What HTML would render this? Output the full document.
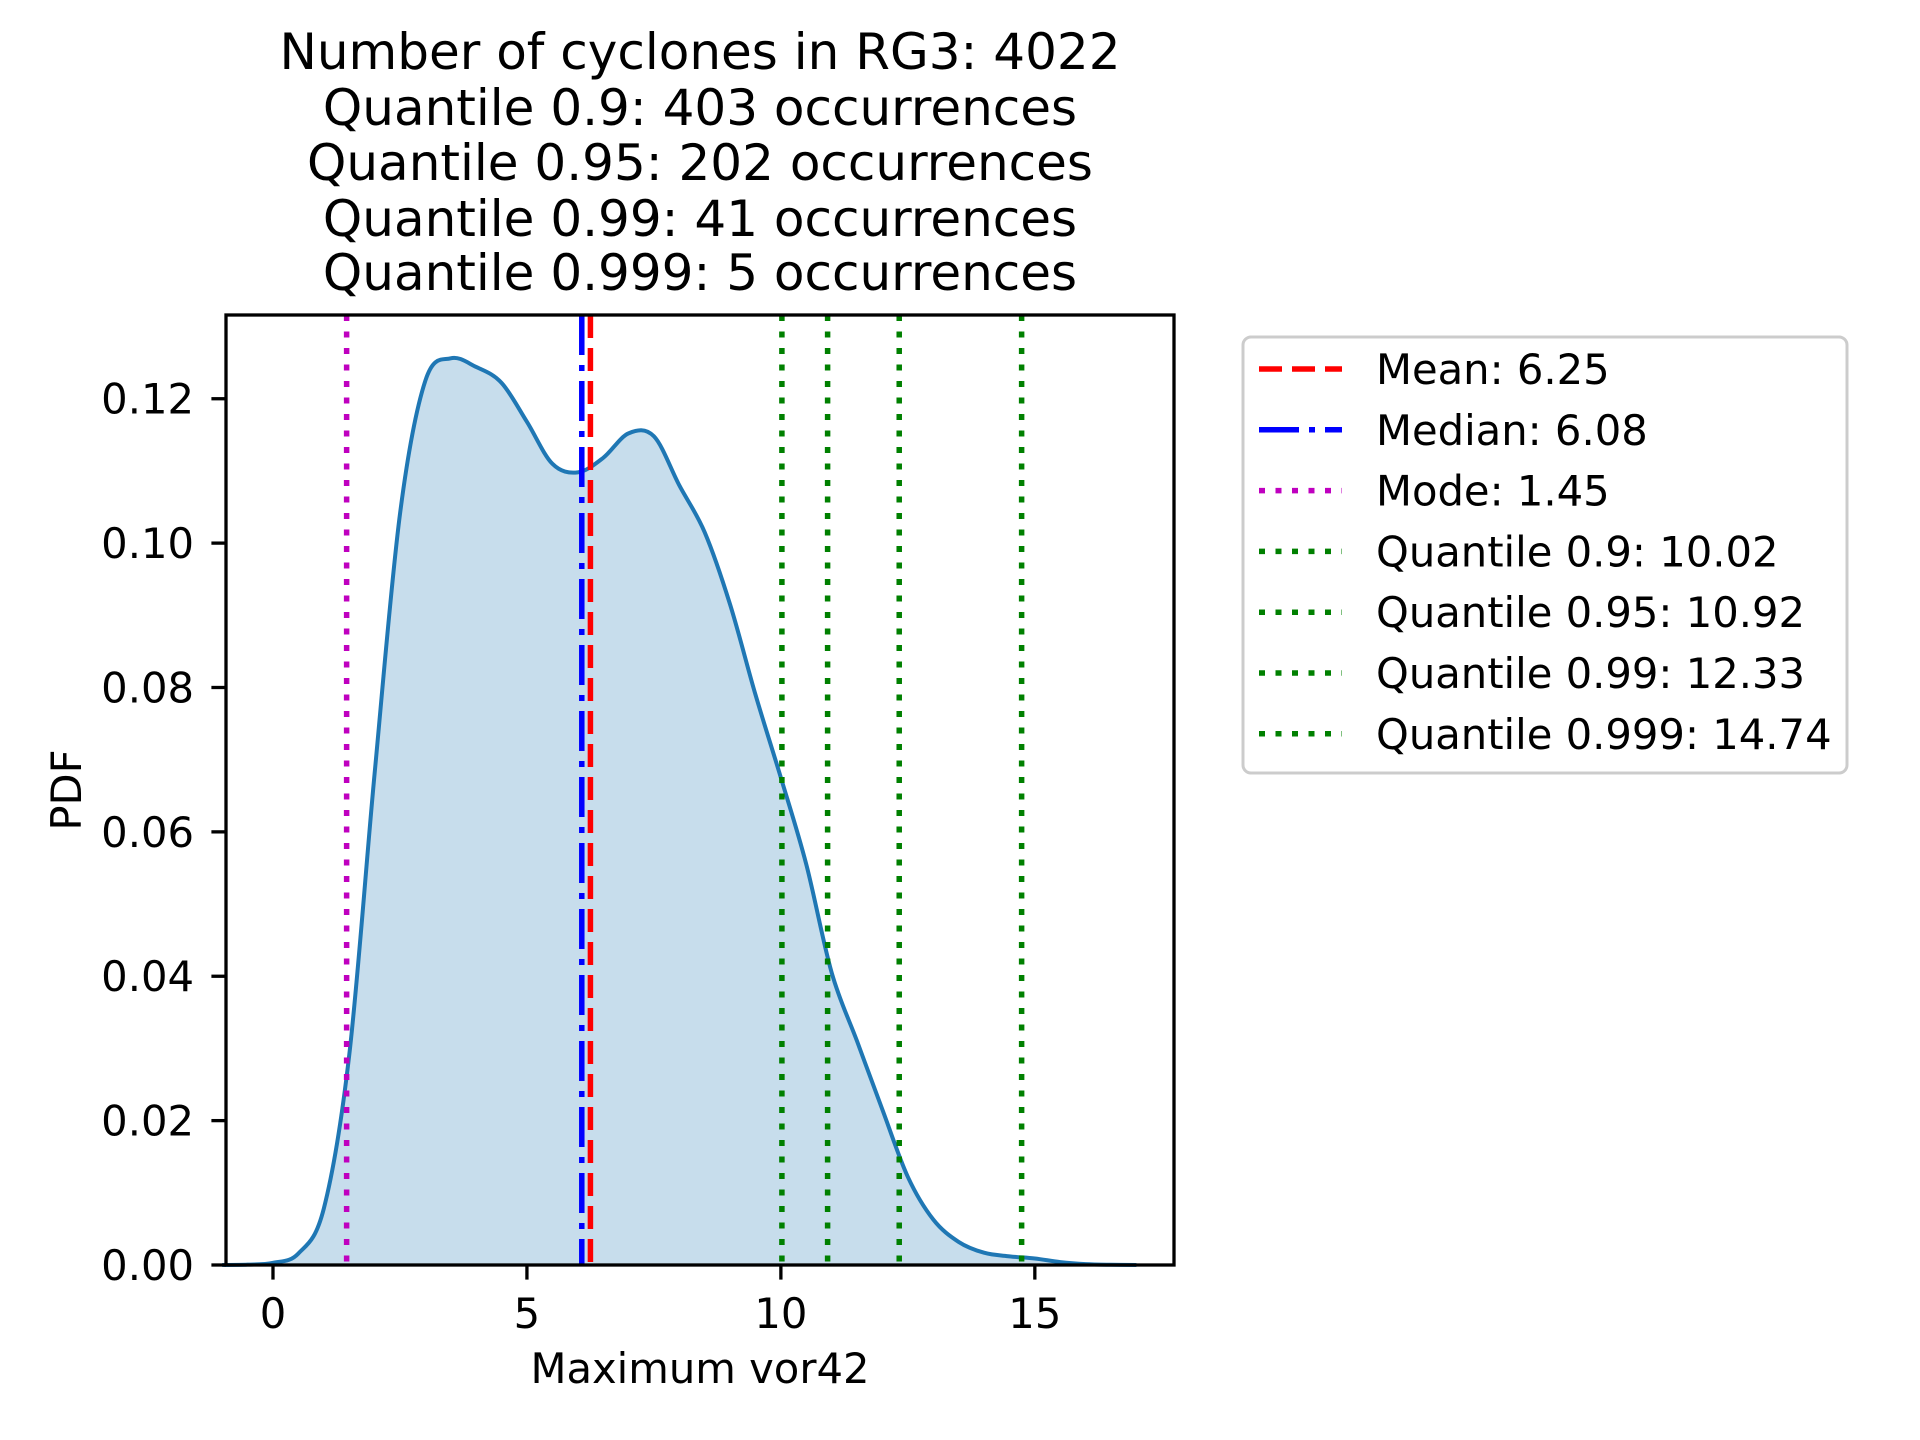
<!DOCTYPE html>
<html><head><meta charset="utf-8"><style>
html,body{margin:0;padding:0;background:#fff;}
svg{display:block;font-family:"DejaVu Sans","Liberation Sans",sans-serif;}
</style></head><body>
<svg id="chart" width="1920" height="1440" viewBox="0 0 1920 1440" xmlns="http://www.w3.org/2000/svg">
<g font-size="50" text-anchor="middle" fill="#000">
<text x="700" y="69">Number of cyclones in RG3: 4022</text>
<text x="700" y="125">Quantile 0.9: 403 occurrences</text>
<text x="700" y="180">Quantile 0.95: 202 occurrences</text>
<text x="700" y="236">Quantile 0.99: 41 occurrences</text>
<text x="700" y="290">Quantile 0.999: 5 occurrences</text>
</g>
<g id="plot"></g>
<text x="700" y="1383" font-size="41.7" text-anchor="middle">Maximum vor42</text>
<text x="0" y="0" font-size="41.7" text-anchor="middle" transform="translate(81,790) rotate(-90)">PDF</text>
<g id="legend"></g>
</svg>
<script>
const kdeX = [-1.0,-0.5,0,0.5,1.0,1.5,2,2.5,3,3.5,4,4.5,5,5.5,6.0,6.5,7,7.5,8,8.5,9,9.5,10,10.5,11,11.5,12,12.5,13,13.5,14,14.5,15,15.5,16,16.5,17.0];
const kdeY = [0,0.00005,0.0003,0.0016,0.0078,0.029,0.068,0.104,0.1225,0.1256,0.1244,0.1222,0.1168,0.111,0.1098,0.1118,0.1152,0.1148,0.108,0.1015,0.0915,0.079,0.0675,0.0555,0.0405,0.031,0.0215,0.0122,0.0063,0.0032,0.0017,0.0012,0.0009,0.0004,0.00012,0.00003,0];
const refNames = ["Mean: 6.25","Median: 6.08","Mode: 1.45","Quantile 0.9: 10.02","Quantile 0.95: 10.92","Quantile 0.99: 12.33","Quantile 0.999: 14.74"];
const refValues = [6.25,6.08,1.45,10.02,10.92,12.33,14.74];
const refColors = ["#ff0000","#0000ff","#bf00bf","#008000","#008000","#008000","#008000"];
const refDash = ["23,10","40,10,6,10","6,10.5","6,10.5","6,10.5","6,10.5","6,10.5"];
const xTicks = [0,5,10,15];
const yTicks = [0,0.02,0.04,0.06,0.08,0.10,0.12];
const yTickLabels = ["0.00","0.02","0.04","0.06","0.08","0.10","0.12"];

const L=226,R=1174,T=315,B=1265;
const xMin=-0.925,xMax=17.74,yMin=0,yMax=0.1316;
const sx=v=>L+(v-xMin)/(xMax-xMin)*(R-L);
const sy=v=>B-(v-yMin)/(yMax-yMin)*(B-T);
const NS="http://www.w3.org/2000/svg";
const plot=document.getElementById('plot');
function mk(tag,attrs,parent){const e=document.createElementNS(NS,tag);for(const k in attrs)e.setAttribute(k,attrs[k]);(parent||plot).appendChild(e);return e;}

function smooth(pts){let d=`M${pts[0][0]},${pts[0][1]}`;for(let i=0;i<pts.length-1;i++){const p0=pts[Math.max(0,i-1)],p1=pts[i],p2=pts[i+1],p3=pts[Math.min(pts.length-1,i+2)];const c1=[p1[0]+(p2[0]-p0[0])/6,p1[1]+(p2[1]-p0[1])/6];const c2=[p2[0]-(p3[0]-p1[0])/6,p2[1]-(p3[1]-p1[1])/6];d+=` C${c1[0]},${c1[1]} ${c2[0]},${c2[1]} ${p2[0]},${p2[1]}`;}return d;}
const pts=kdeX.map((x,i)=>[sx(x),sy(kdeY[i])]);
const line=smooth(pts);
const fill=mk('path',{d:line+` L${sx(kdeX[kdeX.length-1])},${sy(0)} L${sx(kdeX[0])},${sy(0)} Z`,fill:'#1f77b4','fill-opacity':'0.25',stroke:'none'});


const curve=mk('path',{d:line,fill:'none',stroke:'#1f77b4','stroke-width':'4'});



refValues.forEach((v,i)=>{
  const l=mk('line',{x1:sx(v),x2:sx(v),y1:T,y2:B,stroke:refColors[i],'stroke-width':'5.5','stroke-dasharray':refDash[i]});
  
  
});

mk('rect',{x:L,y:T,width:R-L,height:B-T,fill:'none',stroke:'#000','stroke-width':'3.3'});
xTicks.forEach(v=>{
  mk('line',{x1:sx(v),x2:sx(v),y1:B,y2:B+14.6,stroke:'#000','stroke-width':'3.3'});
  const t=mk('text',{x:sx(v),y:1328,'font-size':'41.7','text-anchor':'middle'});t.textContent=v;
  
  
});
yTicks.forEach((v,i)=>{
  mk('line',{x1:L-14.6,x2:L,y1:sy(v),y2:sy(v),stroke:'#000','stroke-width':'3.3'});
  const t=mk('text',{x:194,y:sy(v)+15,'font-size':'41.7','text-anchor':'end'});t.textContent=yTickLabels[i];
  
  
});

const lg=document.getElementById('legend');
mk('rect',{x:1243,y:337,width:604,height:436,rx:8,fill:'#fff',stroke:'#cccccc','stroke-width':'3'},lg);
refNames.forEach((n,i)=>{
  const y=369+60.8*i;
  const h=mk('line',{x1:1259,x2:1342,y1:y,y2:y,stroke:refColors[i],'stroke-width':'5.5','stroke-dasharray':refDash[i]},lg);
  
  
  const t=mk('text',{x:1376,y:y+15,'font-size':'41.7'},lg);t.textContent=n;
  
  
});
</script>
</body></html>
